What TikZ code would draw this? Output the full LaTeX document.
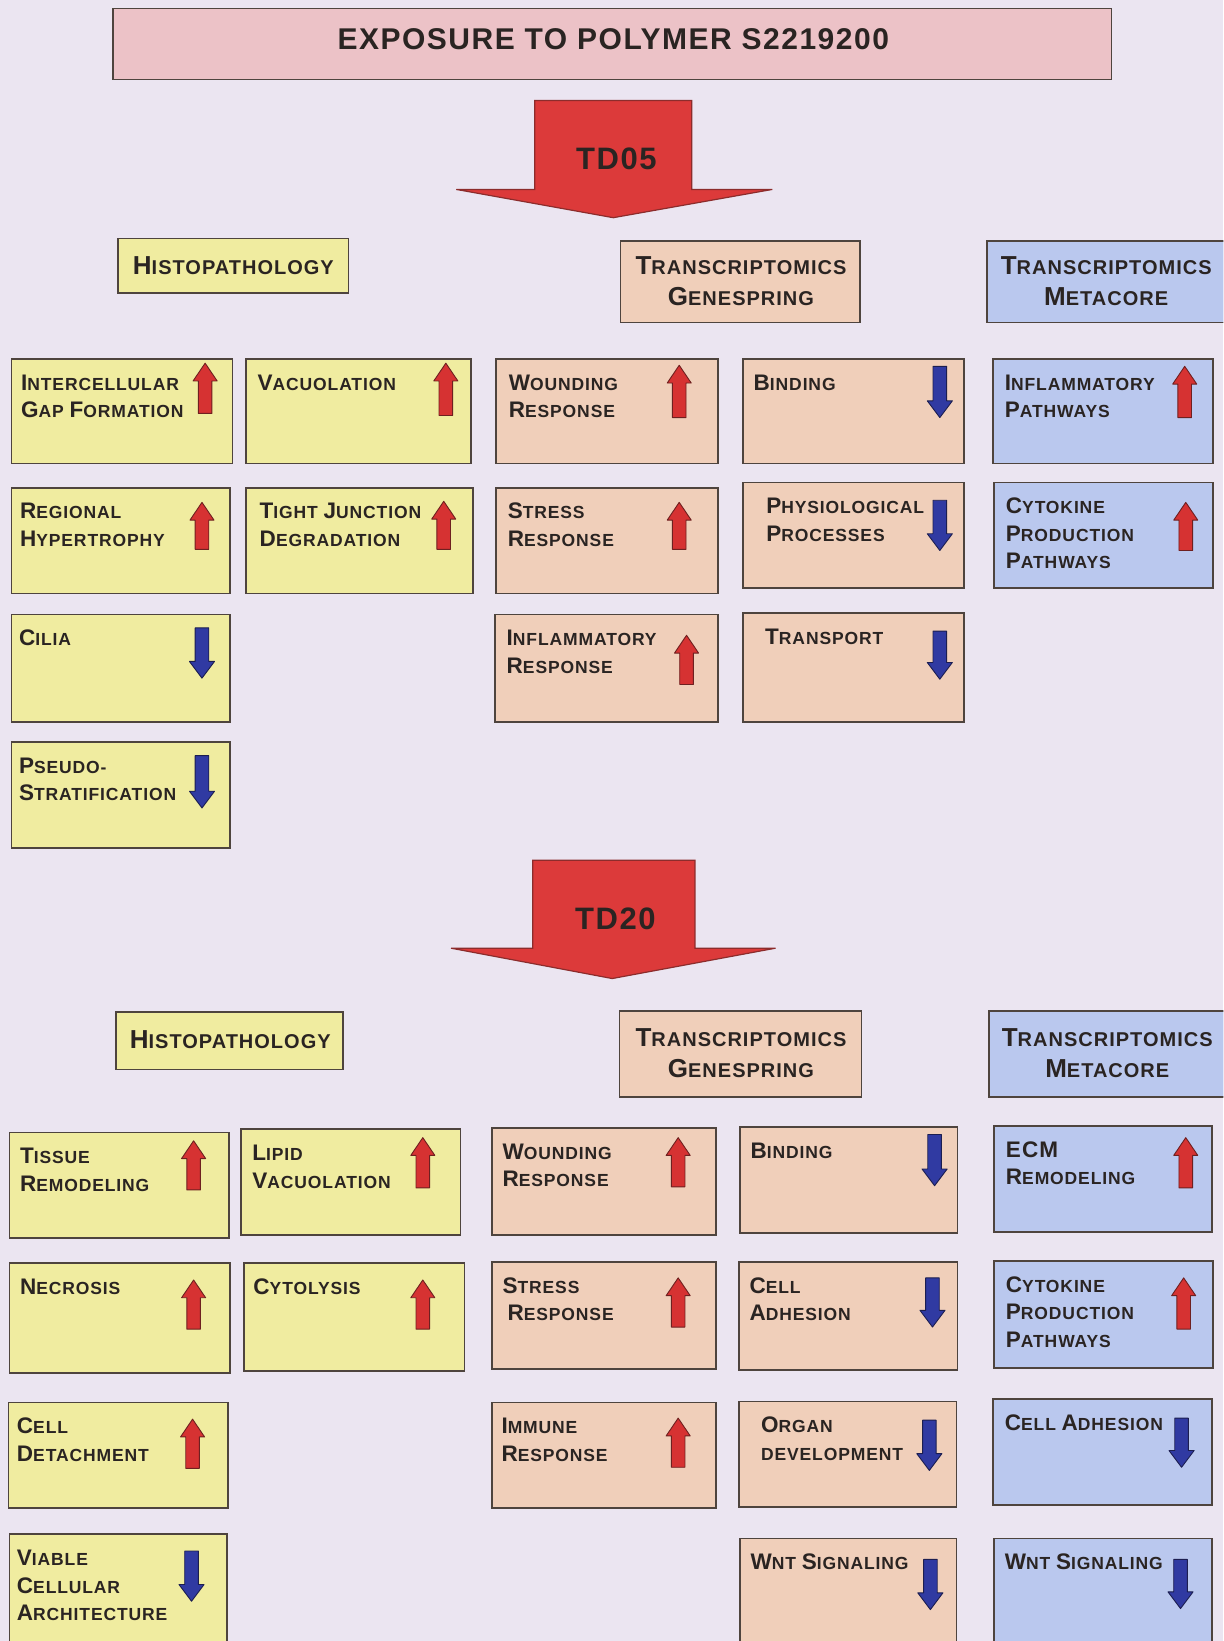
\documentclass[tikz,border=0pt]{standalone}
\usepackage{fontspec}
\setmainfont{Liberation Sans}
\newfontfamily\boxfont[LetterSpace=5]{Liberation Sans}
\newfontfamily\ttlfont[LetterSpace=5]{Liberation Sans}
\usetikzlibrary{fit,calc}
\definecolor{bgc}{RGB}{235,229,241}
\definecolor{pinkc}{RGB}{236,194,199}
\definecolor{yelc}{RGB}{240,236,160}
\definecolor{peachc}{RGB}{240,207,186}
\definecolor{bluec}{RGB}{186,200,238}
\definecolor{linec}{RGB}{78,68,62}
\definecolor{txtc}{RGB}{42,36,34}
\definecolor{redc}{RGB}{214,50,50}
\definecolor{redl}{RGB}{110,32,32}
\definecolor{bluea}{RGB}{48,58,162}
\definecolor{bluel}{RGB}{28,30,80}
\definecolor{bigred}{RGB}{220,58,58}
\definecolor{bigredl}{RGB}{140,44,44}
\newcommand\Wd[2]{{\fontsize{\bigsz}{\bigsz}\selectfont #1}{\fontsize{\smsz}{\smsz}\selectfont #2}}
\tikzset{
  box/.style={draw=linec, line width=1.6pt, inner sep=0pt},
  hbox/.style={box, fill=yelc},
  gbox/.style={box, fill=peachc},
  mbox/.style={box, fill=bluec},
  tbox/.style={box, fill=pinkc},
  lbl/.style={anchor=north west, inner sep=0pt, align=left, text=txtc,
    font=\boxfont\bfseries\def\bigsz{22.5}\def\smsz{17.5}\fontsize{17.5}{27.5}\selectfont},
  hdr/.style={inner sep=0pt, align=center, text=txtc,
    font=\boxfont\bfseries\def\bigsz{26}\def\smsz{20}\fontsize{20}{31}\selectfont},
  ttl/.style={inner sep=0pt, text=txtc, font=\ttlfont\bfseries\fontsize{30}{30}\selectfont},
  bigtxt/.style={inner sep=0pt, text=txtc, font=\ttlfont\bfseries\fontsize{31}{31}\selectfont},
  uparr/.style={fill=redc, draw=redl, line width=0.9pt, line join=round},
  dnarr/.style={fill=bluea, draw=bluel, line width=0.9pt, line join=round},
  bigarr/.style={fill=bigred, draw=bigredl, line width=1.2pt, line join=miter},
}
\newcommand\cell[8]{%
  \node[#2, fit={(#3,#4) (#5,#6)}] (#1) {};
  \node[lbl] (#1t) at (#7,{#4+12}) {\rule{0pt}{18.5pt}#8};}
\newcommand\hcell[8]{%
  \node[#2, fit={(#3,#4) (#5,#6)}] (#1) {};
  \node[hdr] (#1t) at (#7) {#8};}
\newcommand\uparw[3]{\draw[uparr, shift={(#1,#2)}] (0,0) -- (11.5,17) -- (6.5,17) -- (6.5,{#3-#2}) -- (-6.5,{#3-#2}) -- (-6.5,17) -- (-11.5,17) -- cycle;}
\newcommand\dnarw[3]{\draw[dnarr, shift={(#1,#2)}] (-6.5,0) -- (6.5,0) -- (6.5,{#3-#2-16}) -- (12,{#3-#2-16}) -- (0,{#3-#2}) -- (-12,{#3-#2-16}) -- (-6.5,{#3-#2-16}) -- cycle;}
\begin{document}
\begin{tikzpicture}[x=1.0462pt, y=-1.0462pt]
\useasboundingbox (0,0) rectangle (1169,1568);
\clip (0,0) rectangle (1169,1568);
\fill[bgc] (0,0) rectangle (1169,1568);

% title
\node[tbox, fit={(108,8) (1062,76)}] (title) {};
\node[ttl] (titlet) at (586,37) {EXPOSURE TO POLYMER S2219200};

% TD05 arrow
\draw[bigarr] (511,96) -- (661,96) -- (661,181) -- (738,181) -- (586,208) -- (436,181) -- (511,181) -- cycle;
\node[bigtxt] (td05) at (589,152) {TD05};

% section 1 headers
\hcell{h1h}{hbox}{113}{228}{333}{280}{223,254}{\Wd{H}{ISTOPATHOLOGY}}
\hcell{h1g}{gbox}{593}{230}{822}{308}{708,269}{\Wd{T}{RANSCRIPTOMICS}\\\Wd{G}{ENESPRING}}
\hcell{h1m}{mbox}{943}{230}{1180}{308}{1057,269}{\Wd{T}{RANSCRIPTOMICS}\\\Wd{M}{ETACORE}}

% section 1 row 1
\cell{a1}{hbox}{11}{343}{222}{443}{20}{\Wd{I}{NTERCELLULAR}\\\Wd{G}{AP} \Wd{F}{ORMATION}}
\cell{a2}{hbox}{235}{343}{450}{443}{246}{\Wd{V}{ACUOLATION}}
\cell{a3}{gbox}{474}{343}{686}{443}{486}{\Wd{W}{OUNDING}\\\Wd{R}{ESPONSE}}
\cell{a4}{gbox}{710}{343}{921}{443}{720}{\Wd{B}{INDING}}
\cell{a5}{mbox}{949}{343}{1159}{443}{960}{\Wd{I}{NFLAMMATORY}\\\Wd{P}{ATHWAYS}}
\uparw{196}{347}{395}
\uparw{426}{347}{397}
\uparw{649}{349}{399}
\dnarw{898}{350}{399}
\uparw{1132}{350}{399}

% section 1 row 2
\cell{b1}{hbox}{11}{466}{220}{567}{19}{\Wd{R}{EGIONAL}\\\Wd{H}{YPERTROPHY}}
\cell{b2}{hbox}{235}{466}{452}{567}{248}{\Wd{T}{IGHT} \Wd{J}{UNCTION}\\\Wd{D}{EGRADATION}}
\cell{b3}{gbox}{474}{466}{686}{567}{485}{\Wd{S}{TRESS}\\\Wd{R}{ESPONSE}}
\cell{b4}{gbox}{710}{461}{921}{562}{732}{\Wd{P}{HYSIOLOGICAL}\\\Wd{P}{ROCESSES}}
\cell{b5}{mbox}{950}{461}{1159}{562}{961}{\Wd{C}{YTOKINE}\\\Wd{P}{RODUCTION}\\\Wd{P}{ATHWAYS}}
\uparw{193}{480}{525}
\uparw{424}{479}{525}
\uparw{649}{480}{525}
\dnarw{898}{478}{526}
\uparw{1133}{480}{526}

% section 1 row 3
\cell{c1}{hbox}{11}{587}{220}{690}{18}{\Wd{C}{ILIA}}
\cell{c3}{gbox}{473}{587}{686}{690}{484}{\Wd{I}{NFLAMMATORY}\\\Wd{R}{ESPONSE}}
\cell{c4}{gbox}{710}{586}{921}{690}{731}{\Wd{T}{RANSPORT}}
\dnarw{193}{600}{648}
\uparw{656}{607}{654}
\dnarw{898}{603}{649}

% section 1 row 4
\cell{d1}{hbox}{11}{709}{220}{810}{18}{\Wd{P}{SEUDO-}\\\Wd{S}{TRATIFICATION}}
\dnarw{193}{722}{772}

% TD20 arrow
\draw[bigarr] (509,822) -- (664,822) -- (664,906) -- (741,906) -- (585,935) -- (431,906) -- (509,906) -- cycle;
\node[bigtxt] (td20) at (588,878) {TD20};

% section 2 headers
\hcell{h2h}{hbox}{111}{967}{328}{1022}{220,993}{\Wd{H}{ISTOPATHOLOGY}}
\hcell{h2g}{gbox}{592}{966}{823}{1048}{708,1006}{\Wd{T}{RANSCRIPTOMICS}\\\Wd{G}{ENESPRING}}
\hcell{h2m}{mbox}{945}{966}{1180}{1048}{1058,1006}{\Wd{T}{RANSCRIPTOMICS}\\\Wd{M}{ETACORE}}

% section 2 row 1
\cell{e1}{hbox}{9}{1082}{219}{1183}{19}{\Wd{T}{ISSUE}\\\Wd{R}{EMODELING}}
\cell{e2}{hbox}{230}{1079}{440}{1180}{241}{\Wd{L}{IPID}\\\Wd{V}{ACUOLATION}}
\cell{e3}{gbox}{470}{1078}{684}{1180}{480}{\Wd{W}{OUNDING}\\\Wd{R}{ESPONSE}}
\cell{e4}{gbox}{707}{1077}{915}{1178}{717}{\Wd{B}{INDING}}
\cell{e5}{mbox}{950}{1076}{1158}{1177}{961}{\Wd{ECM}{}\\\Wd{R}{EMODELING}}
\uparw{185}{1090}{1137}
\uparw{404}{1087}{1135}
\uparw{648}{1087}{1134}
\dnarw{893}{1084}{1133}
\uparw{1133}{1087}{1135}

% section 2 row 2
\cell{f1}{hbox}{9}{1207}{220}{1312}{19}{\Wd{N}{ECROSIS}}
\cell{f2}{hbox}{233}{1207}{444}{1310}{242}{\Wd{C}{YTOLYSIS}}
\cell{f3}{gbox}{470}{1206}{684}{1308}{480}{\Wd{S}{TRESS}\\\hspace{5pt}\Wd{R}{ESPONSE}}
\cell{f4}{gbox}{706}{1206}{915}{1309}{716}{\Wd{C}{ELL}\\\Wd{A}{DHESION}}
\cell{f5}{mbox}{950}{1205}{1159}{1307}{961}{\Wd{C}{YTOKINE}\\\Wd{P}{RODUCTION}\\\Wd{P}{ATHWAYS}}
\uparw{185}{1223}{1270}
\uparw{404}{1223}{1270}
\uparw{648}{1221}{1268}
\dnarw{891}{1221}{1268}
\uparw{1131}{1221}{1270}

% section 2 row 3
\cell{g1}{hbox}{8}{1340}{218}{1441}{16}{\Wd{C}{ELL}\\\Wd{D}{ETACHMENT}}
\cell{g3}{gbox}{470}{1340}{684}{1441}{479}{\Wd{I}{MMUNE}\\\Wd{R}{ESPONSE}}
\cell{g4}{gbox}{706}{1339}{914}{1440}{727}{\Wd{O}{RGAN}\\\Wd{}{DEVELOPMENT}}
\cell{g5}{mbox}{949}{1337}{1158}{1438}{960}{\Wd{C}{ELL} \Wd{A}{DHESION}}
\uparw{184}{1356}{1403}
\uparw{648}{1355}{1402}
\dnarw{888}{1357}{1405}
\dnarw{1129}{1355}{1402}

% section 2 row 4
\cell{k1}{hbox}{9}{1466}{217}{1580}{16}{\Wd{V}{IABLE}\\\Wd{C}{ELLULAR}\\\Wd{A}{RCHITECTURE}}
\cell{k4}{gbox}{707}{1470}{914}{1580}{717}{\Wd{W}{NT} \Wd{S}{IGNALING}}
\cell{k5}{mbox}{950}{1470}{1158}{1580}{960}{\Wd{W}{NT} \Wd{S}{IGNALING}}
\dnarw{183}{1482}{1530}
\dnarw{889}{1490}{1538}
\dnarw{1128}{1490}{1537}
\end{tikzpicture}
\end{document}
